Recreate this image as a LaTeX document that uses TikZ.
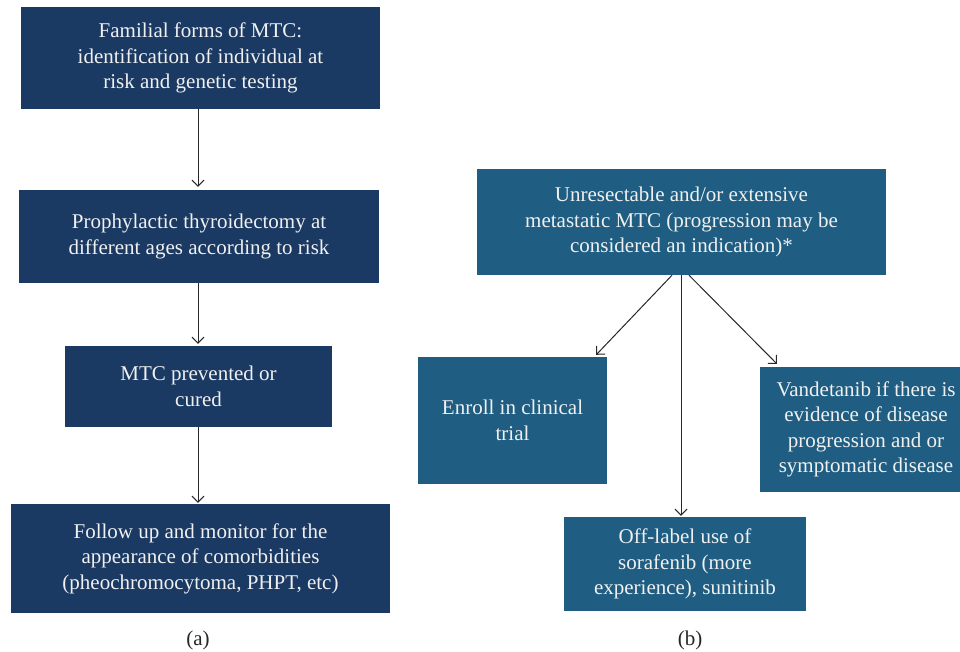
\documentclass[tikz,border=0pt]{standalone}
\usepackage{fontspec}
\setmainfont{Liberation Serif}
\usetikzlibrary{arrows.meta}
\definecolor{navy}{RGB}{27,58,99}
\definecolor{tealbox}{RGB}{31,94,130}
\definecolor{boxtext}{RGB}{240,240,240}
\definecolor{arrowc}{RGB}{40,40,40}
\begin{document}
\begin{tikzpicture}[x=1pt,y=-1pt,
  box/.style={rectangle, inner sep=0pt, align=center, text=boxtext,
    font=\fontsize{21}{25.5}\selectfont},
  boxa/.style={box, fill=navy},
  boxb/.style={box, fill=tealbox},
  conn/.style={draw=arrowc, line width=1pt, -{Straight Barb[length=6pt,width=12pt]}},
  lab/.style={font=\fontsize{21}{25}\selectfont, text=black!85}]
\useasboundingbox[fill=white] (0,0) rectangle (960,652);
% (a) column
\node[boxa, minimum width=359pt, minimum height=102pt] (a1) at (200.5,58)
  {Familial forms of MTC:\\identification of individual at\\risk and genetic testing};
\node[boxa, minimum width=360pt, minimum height=93pt] (a2) at (199,236.5)
  {Prophylactic thyroidectomy at\\different ages according to risk};
\node[boxa, minimum width=267pt, minimum height=81pt] (a3) at (198.5,386.5)
  {MTC prevented or\\cured};
\node[boxa, minimum width=379pt, minimum height=109pt] (a4) at (200.5,558.5)
  {Follow up and monitor for the\\appearance of comorbidities\\(pheochromocytoma, PHPT, etc)};
\draw[conn] ([xshift=-2.5pt]a1.south) -- ([xshift=-1pt,yshift=3pt]a2.north);
\draw[conn] ([xshift=-1pt]a2.south) -- ([xshift=-0.5pt,yshift=2pt]a3.north);
\draw[conn] ([xshift=-0.5pt]a3.south) -- ([xshift=-2.5pt,yshift=1pt]a4.north);
\node[lab] (la) at (198,640) {(a)};
% (b) column
\node[boxb, minimum width=409pt, minimum height=106pt] (b1) at (681.5,222)
  {Unresectable and/or extensive\\metastatic MTC (progression may be\\considered an indication)*};
\node[boxb, minimum width=189pt, minimum height=127pt] (b2) at (512.5,420.5)
  {Enroll in clinical\\trial};
\node[boxb, minimum width=242pt, minimum height=94pt] (b3) at (685,564)
  {Off-label use of\\sorafenib (more\\experience), sunitinib};
\node[boxb, minimum width=212pt, minimum height=125pt] (b4) at (866,429.5)
  {Vandetanib if there is\\evidence of disease\\progression and or\\symptomatic disease};
\draw[conn] ([xshift=-9.5pt]b1.south) -- ([xshift=-11pt,yshift=2pt]b2.north east);
\draw[conn] ([xshift=-0.5pt]b1.south) -- ([xshift=-4pt,yshift=1pt]b3.north);
\draw[conn] ([xshift=7.5pt]b1.south) -- ([xshift=17pt,yshift=3pt]b4.north west);
\node[lab] (lb) at (690,640) {(b)};
\end{tikzpicture}
\end{document}
